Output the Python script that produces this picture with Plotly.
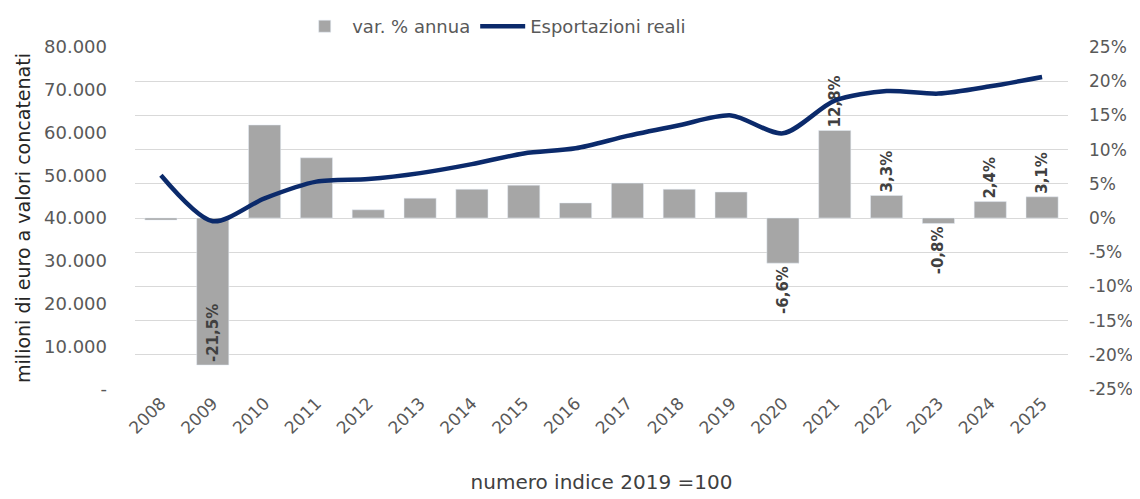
import plotly.graph_objects as go

years = [str(y) for y in range(2008, 2026)]
var_pct = [-0.3, -21.5, 13.6, 8.8, 1.2, 2.9, 4.2, 4.8, 2.2, 5.1, 4.2, 3.8, -6.6, 12.8, 3.3, -0.8, 2.4, 3.1]
export_real = [50000, 39250, 44600, 48500, 49100, 50500, 52600, 55100, 56300, 59200, 61700, 64000,
               59800, 67450, 69700, 69100, 70800, 73000]
labelled_years = ["2009", "2020", "2021", "2022", "2023", "2024", "2025"]

left_ticks = [0, 10000, 20000, 30000, 40000, 50000, 60000, 70000, 80000]
left_ticktext = ["-", "10.000", "20.000", "30.000", "40.000", "50.000", "60.000", "70.000", "80.000"]
right_ticks = [-25, -20, -15, -10, -5, 0, 5, 10, 15, 20, 25]
right_ticktext = [f"{t}%" for t in right_ticks]

bar_text = []
bar_pos = []
for y, v in zip(years, var_pct):
    if y in labelled_years:
        bar_text.append(f"{v:.1f}%".replace(".", ","))
        bar_pos.append("inside" if v < -15 else "outside")
    else:
        bar_text.append("")
        bar_pos.append("none")

FONT = "DejaVu Sans"
GREY = "#595959"

fig = go.Figure()
fig.add_trace(go.Bar(
    x=years, y=var_pct, name="var. % annua", marker_color="#a6a6a6",
    text=bar_text, textposition=bar_pos, textangle=-90,
    insidetextanchor="end", constraintext="none", cliponaxis=False,
    textfont=dict(family=FONT, size=15, color="#404040", weight="bold"),
    yaxis="y",
))
fig.add_trace(go.Scatter(
    x=years, y=export_real, name="Esportazioni reali", mode="lines",
    line=dict(color="#0b2a6b", width=4.5, shape="spline", smoothing=0.8),
    yaxis="y2",
))

fig.update_layout(
    width=1140, height=499,
    margin=dict(l=127, r=80, t=39, b=118, autoexpand=False),
    plot_bgcolor="white", paper_bgcolor="white",
    bargap=0.38,
    font=dict(family=FONT, color=GREY),
    showlegend=True,
    legend=dict(orientation="h", x=0.385, xanchor="center", yref="container", y=1.0, yanchor="top",
                font=dict(family=FONT, size=18, color=GREY), traceorder="normal",
                itemwidth=45, bgcolor="rgba(0,0,0,0)"),
    xaxis=dict(type="category", tickangle=-45, tickfont=dict(size=17, color=GREY),
               showgrid=False, showline=False, ticks="",
               title=dict(text="numero indice 2019 =100", font=dict(size=20, color="#404040"), standoff=38)),
    yaxis=dict(side="right", range=[-25, 25], tickvals=right_ticks, ticktext=right_ticktext,
               tickfont=dict(size=17, color=GREY), showgrid=True, gridcolor="#d9d9d9",
               zeroline=False, ticks="", ticklabelstandoff=20),
    yaxis2=dict(side="left", overlaying="y", range=[0, 80000], tickvals=left_ticks,
                ticktext=left_ticktext, tickfont=dict(size=18, color=GREY), showgrid=False,
                zeroline=False, ticks="", ticklabelstandoff=27,
                title=dict(text="milioni di euro a valori concatenati",
                           font=dict(size=19, color="#262626"), standoff=8)),
)

fig.write_html("out.html")
